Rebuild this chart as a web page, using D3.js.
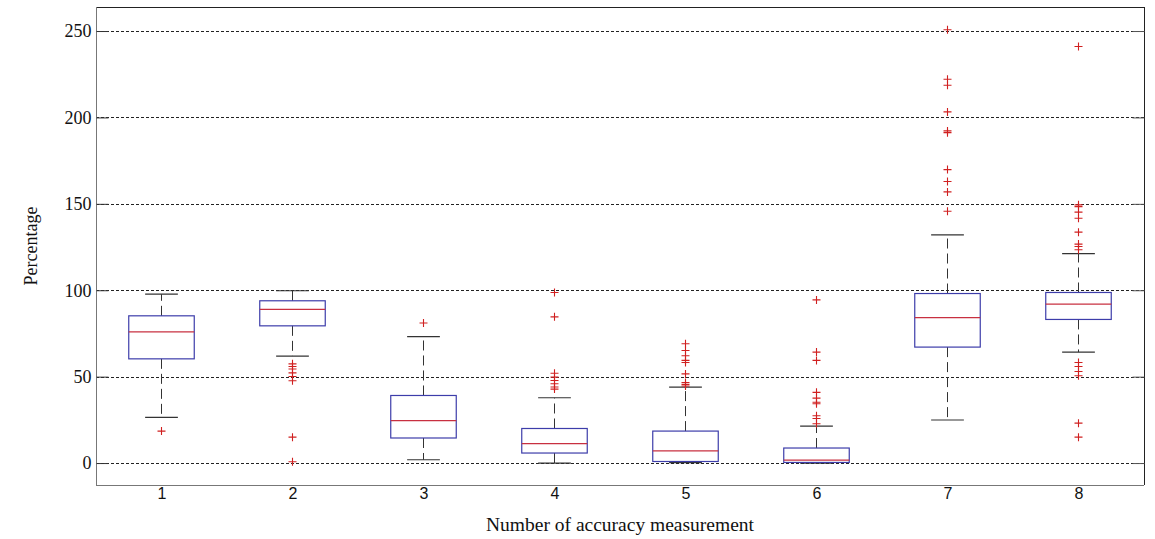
<!DOCTYPE html>
<html>
<head>
<meta charset="utf-8">
<script src="https://cdn.jsdelivr.net/npm/d3@7"></script>
<style>
  html, body { margin: 0; padding: 0; background: #fff; }
  svg { display: block; }
</style>
</head>
<body>
<svg id="chart" width="1155" height="539"></svg>
<script>
// ---- Data ----
const categories = [1, 2, 3, 4, 5, 6, 7, 8];
const whiskerLow  = [26.4, 61.9, 1.9, 0.0, 0.3, 0.0, 24.9, 64.2];
const q1          = [60.3, 79.4, 14.5, 5.8, 0.9, 0.35, 67.1, 83.1];
const medians     = [75.9, 88.9, 24.5, 11.2, 7.1, 1.7, 84.2, 92.0];
const q3          = [85.2, 93.9, 39.1, 20.0, 18.5, 8.7, 98.1, 98.7];
const whiskerHigh = [97.7, 99.7, 73.2, 37.8, 43.9, 21.4, 132.0, 121.2];
const outliers = [
  [18.5],
  [57.4, 55.9, 54.4, 52.2, 50.1, 47.6, 15.0, 0.75],
  [81.0],
  [98.7, 84.6, 52.0, 49.7, 47.8, 45.9, 44.0, 42.8],
  [69.0, 65.1, 62.1, 59.4, 58.2, 51.6, 46.6, 45.5, 44.6],
  [94.4, 64.2, 59.4, 40.9, 37.6, 35.2, 34.3, 27.4, 25.8, 22.7],
  [250.7, 222.1, 218.6, 203.2, 192.2, 191.2, 169.8, 162.9, 156.9, 145.7],
  [241.0, 149.4, 148.4, 145.2, 141.7, 133.6, 126.7, 125.3, 123.4, 58.2, 55.9, 53.0, 50.5, 23.1, 15.0]
];
const yTicks = [0, 50, 100, 150, 200, 250];
const xLabel = "Number of accuracy measurement";
const yLabel = "Percentage";

// ---- Layout ----
const mLeft = 96, mRight = 1144, mTop = 7, mBottom = 485;
const svg = d3.select("#chart");
const x = d3.scaleLinear().domain([0.5, 8.5]).range([mLeft, mRight]);
const y = d3.scaleLinear().domain([-12.7, 263.9]).range([mBottom, mTop]);

const serif = "'Liberation Serif', 'Times New Roman', serif";
const sans = "'Liberation Sans', Arial, sans-serif";

// grid lines
svg.append("g").selectAll("line").data(yTicks).join("line")
  .attr("x1", mLeft).attr("x2", mRight)
  .attr("y1", d => Math.round(y(d)) + 0.5).attr("y2", d => Math.round(y(d)) + 0.5)
  .attr("stroke", "#222").attr("stroke-width", 1)
  .attr("stroke-dasharray", "3,2");

// frame
svg.append("line").attr("x1", mLeft).attr("x2", mRight).attr("y1", mTop + 0.5).attr("y2", mTop + 0.5)
  .attr("stroke", "#222");
svg.append("line").attr("x1", mRight + 0.5).attr("x2", mRight + 0.5).attr("y1", mTop).attr("y2", mBottom)
  .attr("stroke", "#222");

// left axis
const yAxis = d3.axisLeft(y).tickValues(yTicks).tickSize(-12).tickPadding(18);
const gy = svg.append("g").attr("transform", `translate(${mLeft + 0.5},0)`).call(yAxis);
gy.select(".domain").attr("stroke", "#777").attr("d", `M0,${mTop}V${mBottom}`);
gy.selectAll(".tick line").attr("stroke", "#333");
gy.selectAll(".tick text").attr("font-family", serif).attr("font-size", 18).attr("fill", "#111").attr("x", -5);

// right axis ticks
const yAxisR = d3.axisRight(y).tickValues(yTicks).tickSize(-12).tickFormat("");
const gyr = svg.append("g").attr("transform", `translate(${mRight + 0.5},0)`).call(yAxisR);
gyr.select(".domain").remove();
gyr.selectAll(".tick line").attr("stroke", "#555");

// bottom axis
const xAxis = d3.axisBottom(x).tickValues(categories).tickSize(0).tickPadding(2);
const gx = svg.append("g").attr("transform", `translate(0,${mBottom + 0.5})`).call(xAxis);
gx.select(".domain").attr("stroke", "#777").attr("d", `M${mLeft},0H${mRight}`);
gx.selectAll(".tick text").attr("font-family", sans).attr("font-size", 16).attr("fill", "#111");

// boxes
const boxW = 0.5, capW = 0.25;
const g = svg.append("g");
categories.forEach((c, i) => {
  const cx = x(c);
  const bw = x(c + boxW / 2) - x(c - boxW / 2);
  const cw = x(c + capW / 2) - x(c - capW / 2);
  // whiskers (dashed)
  g.append("line").attr("x1", cx).attr("x2", cx)
    .attr("y1", y(q3[i])).attr("y2", y(whiskerHigh[i]))
    .attr("stroke", "#333").attr("stroke-dasharray", "10,5");
  g.append("line").attr("x1", cx).attr("x2", cx)
    .attr("y1", y(q1[i])).attr("y2", y(whiskerLow[i]))
    .attr("stroke", "#333").attr("stroke-dasharray", "10,5");
  // caps
  [whiskerHigh[i], whiskerLow[i]].forEach(v => {
    g.append("line").attr("x1", cx - cw / 2).attr("x2", cx + cw / 2)
      .attr("y1", y(v)).attr("y2", y(v))
      .attr("stroke", "#333").attr("stroke-width", 1.2);
  });
  // box
  g.append("rect").attr("x", cx - bw / 2).attr("width", bw)
    .attr("y", y(q3[i])).attr("height", y(q1[i]) - y(q3[i]))
    .attr("fill", "none").attr("stroke", "#3d3daa").attr("stroke-width", 1.2);
  // median
  g.append("line").attr("x1", cx - bw / 2).attr("x2", cx + bw / 2)
    .attr("y1", y(medians[i])).attr("y2", y(medians[i]))
    .attr("stroke", "#c83040").attr("stroke-width", 1.2);
  // outliers
  outliers[i].forEach(v => {
    const py = y(v);
    g.append("path").attr("d", `M${cx - 4},${py}H${cx + 4}M${cx},${py - 4}V${py + 4}`)
      .attr("stroke", "#d02020").attr("stroke-width", 1.1).attr("fill", "none");
  });
});

// labels
svg.append("text").attr("x", 620).attr("y", 531).attr("text-anchor", "middle")
  .attr("font-family", serif).attr("font-size", 19.5).attr("fill", "#111").text(xLabel);
svg.append("text").attr("transform", "translate(37,246) rotate(-90)").attr("text-anchor", "middle")
  .attr("font-family", serif).attr("font-size", 18).attr("fill", "#111").text(yLabel);
</script>
</body>
</html>
